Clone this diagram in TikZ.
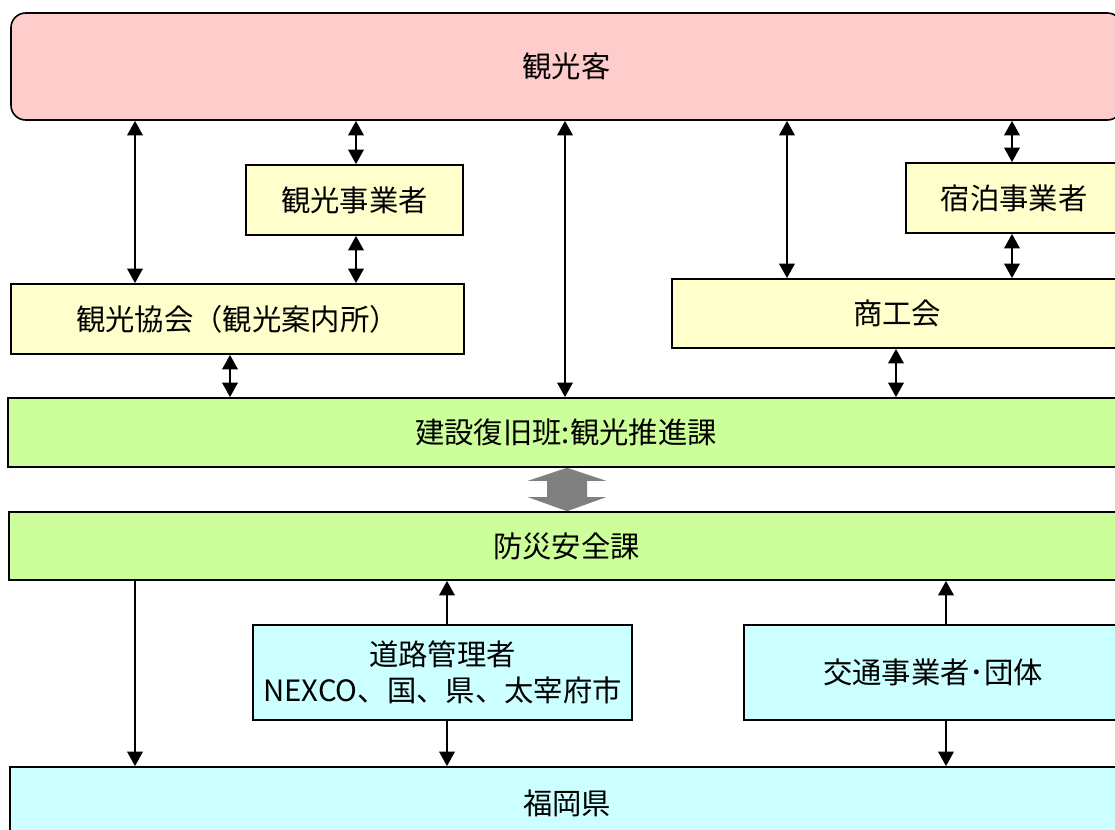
\documentclass[tikz,border=0pt]{standalone}
\usepackage{fontspec}
\setmainfont{Noto Sans CJK JP}
\usetikzlibrary{arrows.meta}
\definecolor{pinkc}{HTML}{FFCCCC}
\definecolor{yellowc}{HTML}{FFFFCC}
\definecolor{greenc}{HTML}{CCFF99}
\definecolor{cyanc}{HTML}{CCFFFF}
\definecolor{grayc}{HTML}{808080}
\begin{document}
\begin{tikzpicture}[x=0.75pt,y=-0.75pt,
  box/.style={draw=black, line width=1.2pt, inner sep=0pt, align=center,
    font=\fontsize{22pt}{27pt}\selectfont},
  dbl/.style={{Triangle[width=11.5pt,length=11pt]}-{Triangle[width=11.5pt,length=11pt]}, line width=2pt},
  one/.style={-{Triangle[width=11.5pt,length=11pt]}, line width=2pt}]
\clip (0,0) rectangle (1115,830);
\fill[white] (0,0) rectangle (1115,830);
\node[box, fill=pinkc, rounded corners=11pt, minimum width=833.25pt, minimum height=80.25pt] (kyaku) at (566.5,66.5) {観光客};
\node[box, fill=yellowc, minimum width=162.75pt, minimum height=52.5pt] (jigyo) at (354.5,200) {観光事業者};
\node[box, fill=yellowc, minimum width=162pt, minimum height=52.5pt] (shuku) at (1014,198) {宿泊事業者};
\node[box, fill=yellowc, minimum width=339.75pt, minimum height=52.5pt] (kyokai) at (237.5,319) {観光協会（観光案内所）};
\node[box, fill=yellowc, minimum width=337.5pt, minimum height=51.75pt] (shoko) at (897,313.5) {商工会};
\node[box, fill=greenc, minimum width=837pt, minimum height=51.75pt] (suishin) at (566,432.5) {建設復旧班:観光推進課};
\node[box, fill=greenc, minimum width=836.25pt, minimum height=51pt] (bosai) at (566.5,546) {防災安全課};
\node[box, fill=cyanc, minimum width=284.25pt, minimum height=71.25pt] (doro) at (442.5,672.5) {道路管理者\\NEXCO、国、県、太宰府市};
\node[box, fill=cyanc, minimum width=283.5pt, minimum height=71.25pt] (kotsu) at (933,672.5) {交通事業者･団体};
\node[box, fill=cyanc, minimum width=835.5pt, minimum height=54.75pt] (fukuoka) at (567,803.5) {福岡県};
\coordinate (xa) at (135,0);
\coordinate (xb) at (356,0);
\coordinate (xc) at (230,0);
\coordinate (xd) at (565,0);
\coordinate (xe) at (787,0);
\coordinate (xf) at (1012,0);
\coordinate (xg) at (896,0);
\coordinate (xh) at (447,0);
\coordinate (xi) at (946,0);
\coordinate (xj) at (567,0);
\draw[dbl] (kyaku.south -| xa) -- (kyokai.north -| xa);
\draw[dbl] (kyaku.south -| xb) -- (jigyo.north -| xb);
\draw[dbl] (jigyo.south -| xb) -- (kyokai.north -| xb);
\draw[dbl] (kyokai.south -| xc) -- (suishin.north -| xc);
\draw[dbl] (kyaku.south -| xd) -- (suishin.north -| xd);
\draw[dbl] (kyaku.south -| xe) -- (shoko.north -| xe);
\draw[dbl] (kyaku.south -| xf) -- (shuku.north -| xf);
\draw[dbl] (shuku.south -| xf) -- (shoko.north -| xf);
\draw[dbl] (shoko.south -| xg) -- (suishin.north -| xg);
\draw[one] (bosai.south -| xa) -- (fukuoka.north -| xa);
\draw[one] (doro.north -| xh) -- (bosai.south -| xh);
\draw[one] (doro.south -| xh) -- (fukuoka.north -| xh);
\draw[one] (kotsu.north -| xi) -- (bosai.south -| xi);
\draw[one] (kotsu.south -| xi) -- (fukuoka.north -| xi);
\coordinate (ga) at (suishin.south -| xj);
\coordinate (gb) at (bosai.north -| xj);
\fill[grayc] (ga) -- ([shift={(39,13)}]ga) -- ([shift={(20,13)}]ga) -- ([shift={(20,-14)}]gb)
  -- ([shift={(39,-14)}]gb) -- (gb) -- ([shift={(-39,-14)}]gb) -- ([shift={(-20,-14)}]gb)
  -- ([shift={(-20,13)}]ga) -- ([shift={(-39,13)}]ga) -- cycle;
\end{tikzpicture}
\end{document}
